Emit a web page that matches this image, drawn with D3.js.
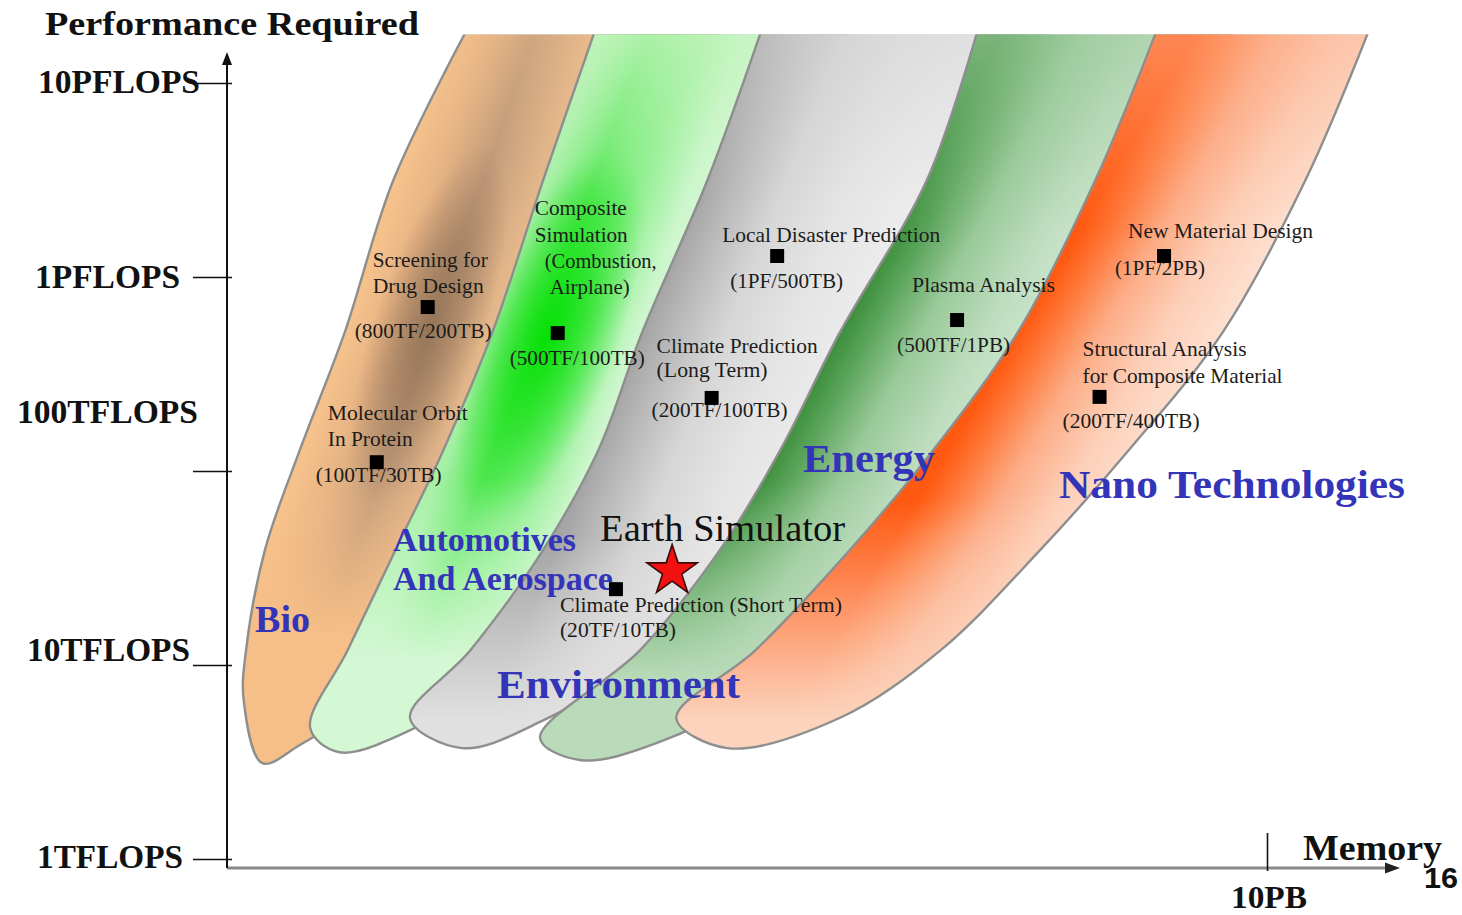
<!DOCTYPE html>
<html><head><meta charset="utf-8">
<script src="https://cdn.jsdelivr.net/npm/d3@7"></script>
<style>html,body{margin:0;padding:0;background:#fff;}svg{display:block;}</style>
</head><body>
<svg id="chart" width="1462" height="915"></svg>
<script>
// ---------------- DATA ----------------
// performance axis (TFLOPS, log) and memory axis (relative position, 100 = 10PB)
const perfTicks = [1, 10, 100, 1000, 10000];
const perfTickLabels = ["1TFLOPS", "10TFLOPS", "100TFLOPS", "1PFLOPS", "10PFLOPS"];
const memTicks = [100];
const memTickLabels = ["10PB"];

// application domains (bands)
const bandNames = ["Bio", "Automotives And Aerospace", "Environment", "Energy", "Nano Technologies"];
const bandLevels = [18100, 3160, 515, 128, 39.2, 11.9];           // TF levels where edges are read
const bandLeftBio    = [22.9, 16.0, 11.3, 7.0, 3.65, 1.83];       // left edge (memory position)
const bandLeftAuto   = [35.3, 30.4, 25.5, 20.8, 16.2, 11.6];
const bandLeftEnv    = [51.3, 46.2, 39.9, 35.7, 30.4, 23.4];
const bandLeftEnergy = [72.1, 67.3, 58.9, 53.2, 47.4, 39.7];
const bandLeftNano   = [89.3, 83.5, 76.0, 67.9, 59.9, 50.8];
const bandWidth      = [20.4, 20.2, 19.7, 18.8, 18.3, 17.8];      // band extent in memory units
// bottom ends: [leftmost, lowest, right] as [memory, TF]
const capBio    = [[1.6, 6.6],  [3.4, 3.12],  [7.0, 3.87]];
const capAuto   = [[8.0, 4.73], [10.7, 3.56], [16.6, 4.35]];
const capEnv    = [[17.6, 5.32],[22.6, 3.73], [30.1, 5.09]];
const capEnergy = [[30.1, 4.2], [33.9, 3.24], [41.6, 4.01]];
const capNano   = [[43.2, 5.33],[48.1, 3.73], [58.9, 5.33]];

// applications
const appNames = [
  ["Screening for", "Drug Design"],
  ["Composite", "Simulation", "(Combustion,", "Airplane)"],
  ["Molecular Orbit", "In Protein"],
  ["Local Disaster Prediction"],
  ["Climate Prediction", "(Long Term)"],
  ["Plasma Analysis"],
  ["New Material Design"],
  ["Structural Analysis", "for Composite Material"],
  ["Climate Prediction (Short Term)"]
];
const appSpec = ["(800TF/200TB)", "(500TF/100TB)", "(100TF/30TB)", "(1PF/500TB)", "(200TF/100TB)",
                 "(500TF/1PB)", "(1PF/2PB)", "(200TF/400TB)", "(20TF/10TB)"];
const appMem  = [19.3, 31.8, 14.4, 52.9, 46.6, 70.2, 90.1, 83.9, 37.4];
const appPerf = [700, 514, 111, 1283, 238, 600, 1283, 241, 24.6];

const esName = "Earth Simulator";
const esMem = 42.8, esPerf = 30.5;

// ---------------- LAYOUT / STYLE ----------------
const svg = d3.select("#chart");
const W = 1462, H = 915;
const x = d3.scaleLinear().domain([0, 100]).range([227, 1267]);
const y = d3.scaleLog().domain([1, 10000]).range([859, 83]);
const SERIF = "'Liberation Serif','Times New Roman',serif";
const defs = svg.append("defs");

const bandLeft = [bandLeftBio, bandLeftAuto, bandLeftEnv, bandLeftEnergy, bandLeftNano];
const bandCaps = [capBio, capAuto, capEnv, capEnergy, capNano];
// extra hidden extent so that a band always slides under the next one
const hiddenExtra = [4, 4, 7, 4, 0];
const extraFactor = [1, 1, 0.8, 0.5, 0.15, 0];
const bandStyle = [
  {stops: [[0,"#f6c28c"],[0.2,"#e6b384"],[0.42,"#c29c7a"],[0.62,"#dcb086"],[0.82,"#f0c292"],[1,"#f4c89a"]],
   pastel: "#f7bf88", fade: [470, 640], top: ["#f3c391", 0.25, 160],
   spot: {mem: 19.4, perf: 560, rx: 55, ry: 190, rot: 19, color: "#86684e", op: 0.75}},
  {stops: [[0,"#a6f0a6"],[0.22,"#5ee85e"],[0.45,"#8aee8a"],[0.7,"#ccf6cc"],[1,"#e6fbe6"]],
   pastel: "#d4f7d4", fade: [480, 660], top: ["#c6f4c0", 0.75, 210],
   spot: {mem: 30.9, perf: 500, rx: 70, ry: 200, rot: 20, color: "#00e000", op: 0.95}},
  {stops: [[0,"#a4a4a4"],[0.15,"#b8b8b8"],[0.4,"#d6d6d6"],[0.7,"#e4e4e4"],[1,"#ebebeb"]],
   pastel: "#e0e0e0", fade: [540, 720], top: ["#d4d4d4", 0.5, 200]},
  {stops: [[0,"#3b8e3b"],[0.15,"#5aa45a"],[0.4,"#9ac99a"],[0.7,"#bcdcbc"],[1,"#d0e8d0"]],
   pastel: "#b9dbb9", fade: [480, 680], top: ["#a6cfa6", 0.6, 230]},
  {stops: [[0,"#ff5810"],[0.15,"#ff7636"],[0.4,"#fcac86"],[0.7,"#fdcfb8"],[1,"#fde0d0"]],
   pastel: "#fcd3bd", fade: [500, 720], top: ["#fcb898", 0.5, 230]}
];

const topY = y(bandLevels[0]);
defs.append("clipPath").attr("id", "plotClip").append("rect")
  .attr("x", 0).attr("y", topY + 1.5).attr("width", W).attr("height", H);

const line = d3.line().x(d => x(d[0])).y(d => y(d[1])).curve(d3.curveCatmullRom.alpha(0.5));
const bandsG = svg.append("g").attr("clip-path", "url(#plotClip)");

bandNames.forEach((name, i) => {
  const left = bandLeft[i];
  const pts = [];
  left.forEach((m, k) => pts.push([m, bandLevels[k]]));
  bandCaps[i].forEach(p => pts.push(p));
  for (let k = left.length - 1; k >= 0; k--)
    pts.push([left[k] + bandWidth[k] + hiddenExtra[i] * extraFactor[k], bandLevels[k]]);
  const d = line(pts) + "Z";
  const st = bandStyle[i];

  // cross-band gradient perpendicular to the band direction
  const p1 = [x(left[1]), y(bandLevels[1])], p3 = [x(left[3]), y(bandLevels[3])];
  const vx = p3[0] - p1[0], vy = p3[1] - p1[1], len = Math.hypot(vx, vy);
  const nx = vy / len, ny = -vx / len;
  const P = [x(left[2]), y(bandLevels[2])];
  const wh = x(left[2] + bandWidth[2]) - x(left[2]);
  const perp = wh * (vy / len);
  const cg = defs.append("linearGradient").attr("id", "cross" + i).attr("gradientUnits", "userSpaceOnUse")
    .attr("x1", P[0]).attr("y1", P[1]).attr("x2", P[0] + nx * perp).attr("y2", P[1] + ny * perp);
  st.stops.forEach(s => cg.append("stop").attr("offset", s[0]).attr("stop-color", s[1]));

  const vg = defs.append("linearGradient").attr("id", "fade" + i).attr("gradientUnits", "userSpaceOnUse")
    .attr("x1", 0).attr("y1", st.fade[0]).attr("x2", 0).attr("y2", st.fade[1]);
  vg.append("stop").attr("offset", 0).attr("stop-color", st.pastel).attr("stop-opacity", 0);
  vg.append("stop").attr("offset", 1).attr("stop-color", st.pastel).attr("stop-opacity", 1);

  const tg = defs.append("linearGradient").attr("id", "topfade" + i).attr("gradientUnits", "userSpaceOnUse")
    .attr("x1", 0).attr("y1", topY).attr("x2", 0).attr("y2", st.top[2]);
  tg.append("stop").attr("offset", 0).attr("stop-color", st.top[0]).attr("stop-opacity", st.top[1]);
  tg.append("stop").attr("offset", 1).attr("stop-color", st.top[0]).attr("stop-opacity", 0);

  const g = bandsG.append("g");
  g.append("path").attr("d", d).attr("fill", "url(#cross" + i + ")");
  if (st.spot) {
    const sp = st.spot;
    const rg = defs.append("radialGradient").attr("id", "spot" + i).attr("gradientUnits", "userSpaceOnUse")
      .attr("cx", 0).attr("cy", 0).attr("r", 1)
      .attr("gradientTransform", `translate(${x(sp.mem)},${y(sp.perf)}) rotate(${sp.rot}) scale(${sp.rx},${sp.ry})`);
    rg.append("stop").attr("offset", 0).attr("stop-color", sp.color).attr("stop-opacity", sp.op);
    rg.append("stop").attr("offset", 0.5).attr("stop-color", sp.color).attr("stop-opacity", sp.op * 0.55);
    rg.append("stop").attr("offset", 1).attr("stop-color", sp.color).attr("stop-opacity", 0);
    g.append("path").attr("d", d).attr("fill", "url(#spot" + i + ")");
  }
  g.append("path").attr("d", d).attr("fill", "url(#topfade" + i + ")");
  g.append("path").attr("d", d).attr("fill", "url(#fade" + i + ")");
  g.append("path").attr("d", d).attr("fill", "none").attr("stroke", "#8e8e8e").attr("stroke-width", 2.4);
});

// ---------------- AXES ----------------
// x axis line (gray) with arrow
svg.append("line").attr("x1", x(0)).attr("x2", 1388).attr("y1", 868).attr("y2", 868)
  .attr("stroke", "#8a8a8a").attr("stroke-width", 3);
svg.append("path").attr("d", "M1400,868 L1385,862.5 L1385,873.5 Z").attr("fill", "#222");
// y axis line with arrow
svg.append("line").attr("x1", x(0)).attr("x2", x(0)).attr("y1", 868).attr("y2", 62)
  .attr("stroke", "#111").attr("stroke-width", 2);
svg.append("path").attr("d", `M${x(0)},52 L${x(0) - 5},65 L${x(0) + 5},65 Z`).attr("fill", "#111");

const yAxis = svg.append("g").attr("transform", "translate(232,0)")
  .call(d3.axisLeft(y).tickValues(perfTicks).tickSize(39).tickFormat(""));
yAxis.select(".domain").remove();
yAxis.selectAll(".tick line").attr("stroke", "#111").attr("stroke-width", 1.6);

const xAxis = svg.append("g").attr("transform", "translate(0,871)")
  .call(d3.axisBottom(x).tickValues(memTicks).tickSize(-38).tickFormat(""));
xAxis.select(".domain").remove();
xAxis.selectAll(".tick line").attr("stroke", "#111").attr("stroke-width", 1.6);

function txt(t, px, py, fs, opts = {}) {
  const el = svg.append("text").attr("x", px).attr("y", py)
    .attr("font-family", opts.family || SERIF).attr("font-size", fs)
    .attr("font-weight", opts.weight || "normal").attr("fill", opts.fill || "#1c1c1c")
    .text(t);
  if (opts.w) el.attr("textLength", opts.w).attr("lengthAdjust", "spacingAndGlyphs");
  return el;
}

// tick labels (offsets relative to tick)
const perfLabelLayout = [{x: 37, dy: 9, w: 146}, {x: 27, dy: -4, w: 163}, {x: 17, dy: -48, w: 181},
                         {x: 35, dy: 11, w: 145}, {x: 38, dy: 10, w: 162}];
perfTicks.forEach((v, i) => {
  const L = perfLabelLayout[i];
  txt(perfTickLabels[i], L.x, y(v) + L.dy, 33, {weight: "bold", w: L.w, fill: "#111"});
});
memTicks.forEach((v, i) => {
  txt(memTickLabels[i], x(v) - 36, 908, 32, {weight: "bold", w: 76, fill: "#111"});
});
txt("Performance Required", 45, 35, 34, {weight: "bold", w: 374, fill: "#111"});
txt("Memory", 1303, 860, 35, {weight: "bold", w: 139, fill: "#111"});
txt("16", 1424, 888, 29, {weight: "bold", w: 34, family: "'Liberation Sans',Arial,sans-serif", fill: "#111"});

// ---------------- CATEGORY LABELS ----------------
const catLabels = [
  {t: "Bio", x: 255, y: 632, fs: 37, w: 55},
  {t: "Automotives", x: 393, y: 551, fs: 33, w: 183},
  {t: "And Aerospace", x: 393, y: 590, fs: 33, w: 220},
  {t: "Environment", x: 497, y: 698, fs: 41, w: 243},
  {t: "Energy", x: 803, y: 472, fs: 41, w: 132},
  {t: "Nano Technologies", x: 1059, y: 498, fs: 41, w: 346}
];
catLabels.forEach(c => txt(c.t, c.x, c.y, c.fs, {weight: "bold", w: c.w, fill: "#3434b8"}));

// ---------------- APPLICATION POINTS ----------------
// label layout: pixel offsets from the marker (name lines, then spec line)
const appLayout = [
  {names: [[-55, -40, 115], [-55, -14, 111]], spec: [-73, 31, 137]},
  {names: [[-23, -118, 92], [-23, -91, 93], [-13, -65, 112], [-8, -39, 80]], spec: [-48, 32, 135]},
  {names: [[-49, -42, 140], [-49, -16, 85]], spec: [-61, 20, 126]},
  {names: [[-55, -14, 218]], spec: [-47, 32, 113]},
  {names: [[-55, -45, 161], [-55, -21, 111]], spec: [-60, 19, 136]},
  {names: [[-45, -28, 143]], spec: [-60, 32, 113]},
  {names: [[-36, -18, 185]], spec: [-49, 19, 90]},
  {names: [[-17, -41, 164], [-17, -14, 200]], spec: [-37, 31, 137]},
  {names: [[-56, 23, 282]], spec: [-56, 48, 116]}
];
const FS = 21;
appMem.forEach((m, i) => {
  const px = x(m), py = y(appPerf[i]);
  const L = appLayout[i];
  appNames[i].forEach((t, k) => {
    const o = L.names[k];
    txt(t, px + o[0], py + o[1], FS, {w: o[2]});
  });
  txt(appSpec[i], px + L.spec[0], py + L.spec[1], FS, {w: L.spec[2]});
});
svg.append("g").selectAll("path").data(appMem).join("path")
  .attr("transform", (m, i) => `translate(${x(m)},${y(appPerf[i])})`)
  .attr("d", d3.symbol(d3.symbolSquare).size(196)).attr("fill", "#000");

// Earth Simulator
txt(esName, x(esMem) - 72, y(esPerf) - 30, 37, {w: 245, fill: "#111"});
svg.append("path").attr("transform", `translate(${x(esMem)},${y(esPerf)})`)
  .attr("d", d3.symbol(d3.symbolStar).size(790))
  .attr("fill", "#f21010").attr("stroke", "#3a0a0a").attr("stroke-width", 1.6);
</script>
</body></html>
